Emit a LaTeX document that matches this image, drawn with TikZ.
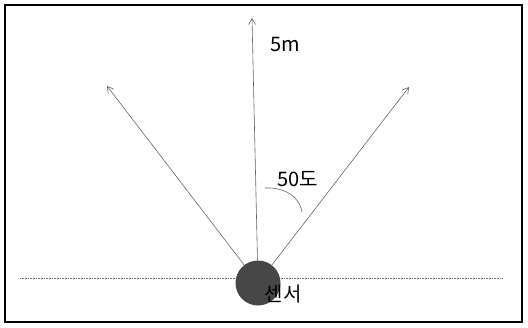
\documentclass[tikz,border=0pt]{standalone}
\usepackage{fontspec}
\setmainfont{Noto Sans CJK KR}
\usetikzlibrary{arrows.meta}
\tikzset{
  ray style/.style = {-{Straight Barb[length=6pt, width=7pt]}, black!60, line width=0.6pt},
  ground style/.style = {densely dotted, black!55, line width=0.6pt},
  sensor style/.style = {circle, fill=black!72, minimum size=45pt, inner sep=0pt},
  label style/.style = {font=\fontsize{20}{24}\selectfont, inner sep=0pt}
}

\begin{document}
\begin{tikzpicture}[x=1pt, y=-1pt]
\useasboundingbox (0,0) rectangle (528,327);

% --- Frame ---
\draw[line width=1.3pt] (5,5) rectangle (522,322);

% --- Ground line ---
\coordinate (G0) at (20,278);
\coordinate (G1) at (503,278);
\draw[ground style] (G0) -- (G1);

% --- Sensor and rays ---
\node[sensor style] (sensor) at (258,283) {};

\coordinate (Tl) at (107,86);
\coordinate (Tc) at (252,18);
\coordinate (Tr) at (409,87);

\draw[ray style] (sensor) -- (Tl);
\draw[ray style] (sensor) -- (Tc);
\draw[ray style] (sensor) -- (Tr);

% --- Angle mark ---
\draw[black!60, line width=0.6pt] (265,188) .. controls (286,187) and (300,198) .. (302,212);

% --- Labels ---
\node[label style] (len)  at (285,44)  {5m};
\node[label style] (ang)  at (298,179) {50도};
\node[label style] (name) at (283,294) {센서};

\end{tikzpicture}
\end{document}
